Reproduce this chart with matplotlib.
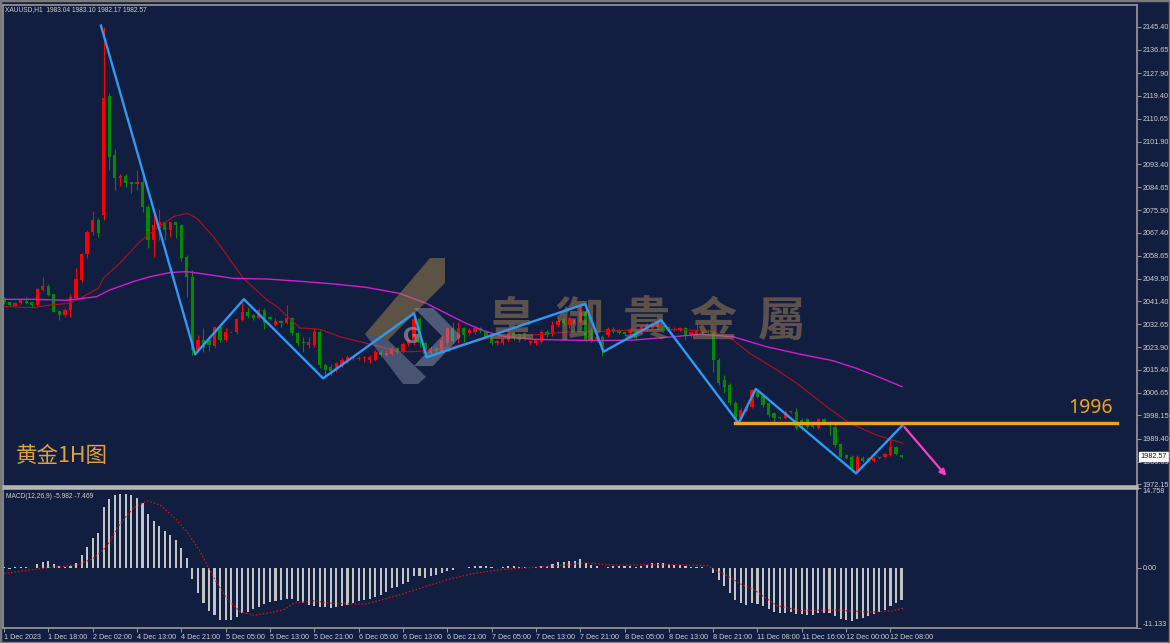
import matplotlib
matplotlib.use('Agg')
import matplotlib.pyplot as plt
from matplotlib.patches import Rectangle, Polygon

plt.rcParams['font.family'] = ['Liberation Sans', 'Noto Sans CJK SC', 'DejaVu Sans']

# ---- XAUUSD H1 bars ----
opens = [2042.5, 2041.0, 2039.75, 2040.75, 2041.65, 2041.0, 2040.0, 2045.7, 2047.2, 2044.05,
         2037.7, 2036.2, 2038.1, 2042.8, 2049.6, 2059.2, 2067.55, 2072.2, 2074.1, 2119.1,
         2096.8, 2088.0, 2088.9, 2086.5, 2085.7, 2086.5, 2077.2, 2064.65, 2069.3, 2071.3,
         2068.6, 2071.3, 2070.5, 2058.3, 2050.75, 2022.95, 2026.7, 2026.7, 2024.6, 2031.55,
         2026.7, 2029.6, 2029.6, 2034.3, 2037.5, 2036.2, 2034.95, 2038.0, 2035.6, 2032.4,
         2034.1, 2033.05, 2034.95, 2029.3, 2026.1, 2024.85, 2024.85, 2029.9, 2017.25, 2016.6,
         2015.4, 2017.25, 2018.5, 2019.8, 2019.7, 2019.9, 2019.15, 2019.15, 2022.3, 2021.05,
         2021.4, 2023.6, 2022.3, 2025.2, 2026.9, 2034.6, 2025.5, 2021.7, 2023.6, 2022.3,
         2025.5, 2031.2, 2027.0, 2031.2, 2029.3, 2029.6, 2031.2, 2030.3, 2028.6, 2025.5,
         2025.5, 2026.7, 2029.3, 2029.0, 2029.3, 2025.5, 2025.5, 2026.1, 2029.6, 2029.0,
         2032.5, 2034.6, 2032.5, 2032.8, 2033.7, 2037.45, 2030.5, 2026.7, 2028.0, 2028.6,
         2030.8, 2030.3, 2029.9, 2029.3, 2029.9, 2029.3, 2030.5, 2031.2, 2031.8, 2032.0,
         2031.8, 2030.5, 2030.5, 2031.2, 2028.6, 2028.9, 2029.9, 2030.3, 2029.3, 2019.15,
         2011.6, 2009.7, 2002.7, 1997.05, 2000.0, 2001.5, 2007.15, 2005.5, 2002.7, 1998.9,
         1997.3, 1997.05, 1999.3, 1999.3, 1996.4, 1996.7, 1994.5, 1993.25, 1996.9, 1995.8,
         1993.9, 1987.3, 1983.15, 1982.5, 1976.8, 1982.1, 1982.1, 1981.0, 1981.9, 1982.5,
         1983.15, 1986.3, 1983.04]
highs = [2043.15, 2041.3, 2041.0, 2042.2, 2043.0, 2041.3, 2046.6, 2050.6, 2048.1, 2044.3,
         2038.0, 2038.75, 2044.05, 2053.9, 2059.8, 2068.4, 2075.8, 2072.9, 2145.5, 2120.5,
         2099.1, 2089.6, 2089.6, 2086.8, 2091.0, 2088.4, 2078.0, 2075.4, 2076.3, 2071.6,
         2071.6, 2071.6, 2070.8, 2058.9, 2053.2, 2028.6, 2031.1, 2027.4, 2032.0, 2031.8,
         2031.2, 2030.3, 2035.0, 2041.3, 2039.4, 2036.6, 2038.75, 2038.75, 2036.0, 2034.95,
         2034.4, 2040.0, 2035.3, 2029.6, 2028.0, 2028.0, 2031.2, 2030.5, 2018.0, 2017.5,
         2018.5, 2019.8, 2021.05, 2021.05, 2020.6, 2020.5, 2021.0, 2022.95, 2022.9, 2022.9,
         2024.0, 2024.2, 2026.1, 2028.0, 2036.85, 2035.6, 2026.1, 2024.5, 2024.2, 2028.6,
         2031.8, 2033.7, 2033.7, 2031.8, 2031.2, 2031.8, 2031.8, 2030.6, 2029.0, 2026.9,
         2027.6, 2030.5, 2029.9, 2029.5, 2029.6, 2026.9, 2027.6, 2030.5, 2030.5, 2034.1,
         2035.1, 2035.1, 2036.0, 2035.0, 2040.4, 2039.9, 2031.2, 2028.6, 2028.6, 2031.5,
         2031.5, 2030.8, 2030.3, 2031.2, 2030.5, 2032.4, 2033.0, 2033.7, 2034.3, 2032.4,
         2032.2, 2031.5, 2031.8, 2031.8, 2030.0, 2032.9, 2030.3, 2030.8, 2029.9, 2020.0,
         2013.5, 2010.3, 2003.5, 2000.8, 2002.1, 2008.2, 2007.8, 2006.0, 2003.0, 1999.3,
         1997.6, 2000.2, 2000.0, 2000.8, 1997.05, 1997.1, 1994.9, 1997.05, 1997.2, 1996.2,
         1994.5, 1987.8, 1983.6, 1983.15, 1983.0, 1982.8, 1982.5, 1982.5, 1982.5, 1984.0,
         1989.5, 1986.6, 1983.10]
lows = [2040.5, 2039.6, 2039.5, 2040.5, 2040.5, 2039.4, 2039.75, 2045.4, 2043.4, 2037.5,
        2034.3, 2035.5, 2035.6, 2042.5, 2048.85, 2057.7, 2066.5, 2065.9, 2072.2, 2091.2,
        2083.6, 2085.0, 2084.9, 2082.3, 2083.6, 2075.4, 2061.5, 2058.3, 2064.5, 2064.6,
        2065.9, 2065.3, 2056.6, 2043.1, 2021.05, 2022.1, 2022.1, 2022.6, 2023.6, 2026.1,
        2026.5, 2029.3, 2028.9, 2034.0, 2034.95, 2034.3, 2034.7, 2030.8, 2034.3, 2032.0,
        2031.8, 2032.8, 2028.6, 2024.6, 2022.3, 2023.6, 2024.2, 2016.0, 2012.2, 2013.5,
        2014.7, 2016.6, 2017.9, 2019.2, 2019.2, 2018.3, 2018.0, 2018.9, 2020.4, 2020.6,
        2021.0, 2021.7, 2021.7, 2024.6, 2024.85, 2024.2, 2020.2, 2021.05, 2021.7, 2021.7,
        2025.0, 2025.5, 2025.5, 2026.1, 2028.6, 2029.0, 2029.3, 2027.4, 2024.85, 2025.0,
        2024.85, 2026.1, 2026.7, 2026.1, 2026.7, 2024.85, 2025.0, 2025.5, 2028.0, 2028.4,
        2031.8, 2032.5, 2031.2, 2032.3, 2033.0, 2026.0, 2026.1, 2026.1, 2020.5, 2028.0,
        2029.3, 2028.9, 2028.4, 2028.9, 2026.9, 2028.9, 2030.0, 2030.8, 2031.2, 2029.9,
        2030.3, 2030.0, 2030.0, 2026.7, 2028.0, 2028.4, 2028.9, 2028.9, 2014.7, 2009.5,
        2006.5, 2002.1, 1995.15, 1996.4, 1999.6, 2001.0, 2004.6, 2001.5, 1997.6, 1995.8,
        1996.7, 1996.7, 1999.0, 1992.6, 1992.6, 1993.3, 1993.25, 1992.9, 1995.2, 1990.7,
        1986.3, 1981.9, 1981.5, 1976.8, 1976.2, 1980.6, 1980.9, 1980.6, 1981.6, 1982.1,
        1982.8, 1983.0, 1982.17]
closes = [2041.0, 2040.0, 2040.75, 2041.8, 2040.9, 2040.0, 2046.05, 2047.2, 2043.8, 2037.5,
          2036.2, 2038.2, 2043.0, 2049.85, 2059.45, 2067.8, 2072.2, 2067.4, 2118.6, 2096.2,
          2088.0, 2088.9, 2086.4, 2085.9, 2086.7, 2077.0, 2064.65, 2070.3, 2071.3, 2068.4,
          2071.3, 2070.3, 2057.95, 2050.75, 2022.95, 2026.7, 2023.6, 2024.85, 2031.55, 2026.7,
          2029.6, 2029.9, 2034.7, 2037.5, 2035.8, 2034.95, 2038.0, 2033.05, 2034.7, 2034.1,
          2033.05, 2034.95, 2029.3, 2025.5, 2025.5, 2026.1, 2029.9, 2017.25, 2015.4, 2015.1,
          2017.9, 2019.15, 2020.4, 2020.3, 2020.1, 2020.0, 2020.4, 2022.3, 2021.05, 2021.9,
          2023.6, 2022.3, 2025.2, 2026.9, 2034.6, 2025.5, 2021.4, 2023.6, 2022.5, 2026.7,
          2031.1, 2026.5, 2031.2, 2028.6, 2030.5, 2031.2, 2030.3, 2028.0, 2025.5, 2026.3,
          2027.2, 2029.3, 2027.4, 2026.7, 2027.2, 2026.4, 2027.2, 2029.6, 2028.8, 2032.5,
          2034.1, 2033.3, 2035.1, 2034.3, 2037.45, 2026.7, 2026.7, 2028.0, 2024.2, 2030.8,
          2029.9, 2029.3, 2029.0, 2030.8, 2027.4, 2031.8, 2032.4, 2033.05, 2033.6, 2030.3,
          2030.8, 2031.0, 2031.2, 2028.6, 2029.6, 2030.3, 2029.3, 2029.3, 2019.15, 2010.3,
          2009.05, 2002.7, 1997.05, 2000.2, 2001.5, 2007.8, 2005.25, 2002.1, 1998.3, 1997.05,
          1997.1, 1999.6, 1999.6, 1993.25, 1994.5, 1993.9, 1993.6, 1996.7, 1995.8, 1994.5,
          1986.9, 1982.5, 1982.1, 1977.45, 1982.5, 1981.0, 1981.25, 1982.1, 1982.2, 1983.6,
          1986.3, 1983.4, 1982.57]

# moving averages, sampled along the drawn lines (bar index, price)
ma_fast_bar = [0, 5.3, 8.3, 11.9, 14.3, 17.0, 17.9, 20.9, 24.5, 27.6, 30.6, 33.0, 34.8, 37.8,
               40.2, 43.2, 47.4, 49.2, 53.4, 57.0, 60.6, 65.4, 69.0, 71.4, 73.8, 77.4, 81.0,
               84.6, 88.2, 91.8, 95.4, 99.1, 102.7, 106.3, 113.6, 119.6, 125.6, 128.0, 131.6,
               134.6, 139.5, 143.1, 148.5, 152.7, 157.5, 162.2]
ma_fast_val = [2039.4, 2039.0, 2040.0, 2040.6, 2043.15, 2046.3, 2050.1, 2055.8, 2064.0, 2069.1,
               2073.5, 2074.75, 2072.9, 2065.9, 2059.0, 2050.1, 2042.0, 2039.5, 2031.3, 2030.8,
               2028.0, 2025.5, 2023.6, 2022.3, 2022.3, 2022.95, 2024.2, 2026.1, 2027.7, 2028.25,
               2028.6, 2029.3, 2029.9, 2029.9, 2030.5, 2030.8, 2030.3, 2029.9, 2026.7, 2021.7,
               2015.4, 2010.3, 2001.5, 1995.15, 1990.7, 1987.6]
ma_slow_bar = [0, 5.3, 11.3, 16.7, 19.1, 23.3, 26.4, 30.0, 33.0, 36.6, 41.4, 47.4, 53.4, 59.4,
               65.4, 71.4, 76.2, 80.4, 83.4, 87.0, 90.6, 95.4, 101.4, 107.4, 113.6, 119.6, 125.6,
               131.6, 137.6, 143.6, 149.6, 154.0, 158.0, 162.1]
ma_slow_val = [2042.15, 2042.15, 2041.8, 2043.15, 2045.7, 2048.85, 2050.75, 2052.3, 2052.65,
               2051.6, 2050.1, 2049.85, 2049.0, 2048.0, 2046.7, 2044.4, 2040.65, 2036.2, 2033.05,
               2029.9, 2028.0, 2027.0, 2026.7, 2026.5, 2026.7, 2027.75, 2028.9, 2028.0, 2024.2,
               2021.4, 2018.9, 2015.9, 2012.6, 2009.05]

# hand-drawn zigzag, support level and projection arrow
zigzag_bar = [17.5, 34.5, 43.3, 57.6, 74.0, 76.3, 104.9, 108.2, 118.6, 132.6, 135.7, 153.8, 162.2]
zigzag_val = [2145.9, 2021.3, 2042.2, 2012.2, 2036.85, 2020.2, 2040.4, 2022.3, 2034.3, 1995.2,
              2008.2, 1976.2, 1994.5]
level_bar = [132.0, 200.9]
level_val = 1995.3
arrow_bar = [162.2, 170.4]
arrow_val = [1994.5, 1974.4]

# MACD(12,26,9) main histogram, one per bar
macd_main = [0.2, -0.2, 0.1, 0.1, 0.1, 0.0, 0.7, 1.0, 1.2, 0.7,
             0.4, 0.2, 0.4, 0.9, 2.3, 3.9, 5.5, 6.5, 11.2, 12.8,
             13.4, 13.6, 13.6, 13.4, 13.0, 12.0, 10.0, 8.6, 7.8, 6.8,
             6.0, 5.2, 3.7, 1.8, -2.0, -4.7, -6.5, -8.0, -8.8, -9.6,
             -9.7, -9.6, -9.1, -8.3, -8.1, -7.7, -7.2, -6.7, -6.4, -6.1,
             -5.9, -5.7, -5.7, -6.1, -6.5, -6.9, -7.1, -7.2, -7.3, -7.4,
             -7.2, -7.1, -6.8, -6.6, -6.2, -5.9, -5.7, -5.4, -5.1, -4.4,
             -3.8, -3.5, -3.0, -2.6, -1.6, -1.6, -1.8, -1.6, -1.4, -1.0,
             -0.5, -0.4, -0.1, 0.0, 0.2, 0.3, 0.4, 0.3, 0.1, 0.0,
             0.1, 0.3, 0.3, 0.2, 0.2, 0.0, 0.1, 0.3, 0.4, 0.7,
             1.0, 1.1, 1.3, 1.3, 1.6, 0.9, 0.5, 0.4, -0.1, 0.2,
             0.3, 0.3, 0.3, 0.4, 0.2, 0.4, 0.6, 0.8, 0.9, 0.8,
             0.7, 0.6, 0.6, 0.3, 0.2, 0.2, 0.1, 0.0, -0.9, -2.3,
             -3.4, -4.7, -6.0, -6.6, -6.9, -6.6, -6.7, -7.0, -7.6, -8.1,
             -8.4, -8.3, -8.1, -8.5, -8.6, -8.7, -8.7, -8.4, -8.3, -8.3,
             -8.9, -9.5, -9.6, -9.9, -9.5, -9.2, -8.9, -8.6, -8.2, -7.8,
             -7.1, -6.6, -5.98]
signal_bar = [0, 5.3, 8.3, 13.1, 16.1, 18.5, 21.0, 23.3, 25.8, 28.2, 30.6, 33.0, 35.4, 37.8,
              40.2, 42.6, 45.0, 47.4, 50.4, 52.2, 55.8, 59.4, 65.5, 71.2, 76, 80, 85, 90, 100,
              105, 110, 120, 127, 130, 133, 135.4, 139.5, 143.7, 150.5, 156.1, 160.3, 162.3]
signal_val = [-1.05, -0.3, 0.05, 0.5, 1.7, 3.9, 8.2, 11.0, 12.4, 11.6, 9.4, 6.7, 3.0, -1.7,
              -5.7, -8.1, -8.75, -8.45, -7.8, -6.6, -6.1, -6.6, -6.7, -5.05, -3.5, -2.2, -1.0,
              -0.3, 0.4, 0.9, 0.5, 0.6, 0.4, -1.2, -3.0, -4.1, -7.0, -7.9, -7.8, -8.2, -8.0,
              -7.47]

price_ticks = [2145.40, 2136.65, 2127.90, 2119.40, 2110.65, 2101.90, 2093.40, 2084.65, 2075.90,
               2067.40, 2058.65, 2049.90, 2041.40, 2032.65, 2023.90, 2015.40, 2006.65, 1998.15,
               1989.40, 1980.65, 1972.15]
time_labels = ['1 Dec 2023', '1 Dec 18:00', '2 Dec 02:00', '4 Dec 13:00', '4 Dec 21:00',
               '5 Dec 05:00', '5 Dec 13:00', '5 Dec 21:00', '6 Dec 05:00', '6 Dec 13:00',
               '6 Dec 21:00', '7 Dec 05:00', '7 Dec 13:00', '7 Dec 21:00', '8 Dec 05:00',
               '8 Dec 13:00', '8 Dec 21:00', '11 Dec 08:00', '11 Dec 16:00', '12 Dec 00:00',
               '12 Dec 08:00']

BG = '#111e3f'
FG = '#d0d0d0'
AXC = '#9a9a9a'
UP = '#ff0000'
DOWN = '#008a00'
W, H = 1170, 643


def fx(px):
    return (px - 3) / 1134.0


def fy(py):
    return (486 - py) / 481.0


def main():
    fig = plt.figure(figsize=(W / 100, H / 100), dpi=100, facecolor=BG)
    ax = fig.add_axes([3 / W, (H - 486) / H, 1134 / W, 481 / H], facecolor=BG)
    axm = fig.add_axes([3 / W, (H - 628) / H, 1134 / W, 140 / H], facecolor=BG, sharex=ax)

    n = len(closes)
    xs = list(range(n))

    # candles
    for i in xs:
        o, h, l, c = opens[i], highs[i], lows[i], closes[i]
        col = UP if c >= o else DOWN
        ax.vlines(i, l, h, color=col, lw=0.8, zorder=2)
        bot = min(o, c)
        ht = max(abs(c - o), 0.35)
        ax.bar(i, ht, bottom=bot, width=0.58, color=col, edgecolor=col, lw=0, zorder=2)

    ax.plot(ma_fast_bar, ma_fast_val, color='#b3101c', lw=0.8, zorder=3)
    ax.plot(ma_slow_bar, ma_slow_val, color='#cf1fd0', lw=1.0, zorder=3)

    # watermark logo + text
    gold = [(430, 258), (445, 258), (445, 283), (388, 340), (365, 334)]
    light = [(365, 334), (388, 340), (426, 377), (418, 384), (403, 384)]
    chev = [(414, 308), (433, 308), (461, 336), (433, 366), (414, 366), (442, 336)]
    for pts, col, al in [(gold, '#a8884a', 0.5), (light, '#8f98ae', 0.45), (chev, '#8e97ad', 0.5)]:
        ax.add_patch(Polygon([(fx(a), fy(b)) for a, b in pts], closed=True,
                             transform=ax.transAxes, facecolor=col, edgecolor='none',
                             alpha=al, zorder=4))
    ax.text(fx(412), fy(337), 'G', transform=ax.transAxes, ha='center', va='center',
            fontsize=15, fontweight='bold', color='#8e97ad', alpha=0.7, zorder=4,
            family=['DejaVu Sans'])
    for ch, cx in zip('皇御貴金屬', [511, 579, 646, 713, 781]):
        ax.text(fx(cx), fy(322), ch, transform=ax.transAxes, ha='center', va='center',
                fontsize=34, fontweight='bold', color='#a88458', alpha=0.5, zorder=4,
                family=['Noto Sans CJK TC', 'DejaVu Sans'])

    # drawings
    ax.plot(zigzag_bar, zigzag_val, color='#2e9af5', lw=1.7, zorder=5)
    ax.plot(level_bar, [level_val, level_val], color='#f0a21e', lw=2.4, zorder=5)
    ax.annotate('', xy=(arrow_bar[1], arrow_val[1]), xytext=(arrow_bar[0], arrow_val[0]),
                arrowprops=dict(arrowstyle='-|>', color='#ff3fc0', lw=1.6, mutation_scale=9),
                zorder=6)
    ax.text(fx(1068), fy(408), '1996', transform=ax.transAxes, ha='left', va='center',
            fontsize=14, color='#f0a21e', zorder=7, family=['Noto Sans', 'DejaVu Sans'])
    ax.text(fx(16), fy(456), '黄金1H图', transform=ax.transAxes, ha='left', va='center',
            fontsize=15.5, color='#e0a23c', zorder=7,
            family=['Noto Sans CJK SC', 'DejaVu Sans'])
    ax.text(fx(5), fy(10), 'XAUUSD,H1  1983.04 1983.10 1982.17 1982.57', transform=ax.transAxes,
            ha='left', va='center', fontsize=4.8, color=FG, zorder=7)

    ax.set_xlim(-0.18, 204.5)
    ax.set_ylim(1971.4, 2153.7)
    ax.yaxis.tick_right()
    ax.set_yticks(price_ticks)
    ax.set_yticklabels(['%.2f' % v for v in price_ticks])
    ax.tick_params(axis='y', colors=AXC, labelcolor=FG, labelsize=5.2, length=3, pad=1, width=0.7)
    ax.tick_params(axis='x', bottom=False, labelbottom=False)

    # current price box
    ax.text(1.003, (closes[-1] - 1971.4) / (2153.7 - 1971.4), '%.2f' % closes[-1],
            transform=ax.transAxes, ha='left', va='center', fontsize=5.2, color='#111111',
            bbox=dict(boxstyle='square,pad=0.15', facecolor='white', edgecolor='white'),
            clip_on=False, zorder=8)

    # MACD panel
    axm.bar(xs, macd_main, width=0.38, color='#c4c4c4', lw=0, zorder=2)
    axm.plot(signal_bar, signal_val, color='#e01010', lw=0.9, ls=(0, (1.2, 1.6)), zorder=3)
    axm.set_ylim(-11.133, 14.758)
    axm.yaxis.tick_right()
    axm.set_yticks([14.758, 0.0, -11.133])
    axm.set_yticklabels(['14.758', '0.00', '-11.133'])
    yl = axm.get_yticklabels()
    yl[0].set_va('top')
    yl[2].set_va('bottom')
    axm.tick_params(axis='y', colors=AXC, labelcolor=FG, labelsize=5.2, length=3, pad=1, width=0.7)
    axm.text(fx(5) + 0.0005, 0.965, 'MACD(12,26,9) -5.982 -7.469', transform=axm.transAxes,
             ha='left', va='top', fontsize=4.8, color=FG)

    axm.set_xticks(list(range(0, 161, 8)))
    axm.set_xticklabels(time_labels)
    for lbl in axm.get_xticklabels():
        lbl.set_ha('left')
    axm.tick_params(axis='x', colors=AXC, labelcolor=FG, labelsize=5.2, length=3, pad=1, width=0.7)

    for a in (ax, axm):
        for s in a.spines.values():
            s.set_color(AXC)
            s.set_linewidth(1.2)
    ax.spines['bottom'].set_linewidth(1.8)
    axm.spines['top'].set_linewidth(1.8)
    ax.spines['bottom'].set_color('#b8b8b8')
    axm.spines['top'].set_color('#b8b8b8')

    fig.patches.append(Rectangle((0, 0), 1, 1, transform=fig.transFigure, fill=False,
                                 edgecolor='#7a7a7a', lw=2.5))

    plt.savefig('out.png', dpi=100, facecolor=BG)


if __name__ == '__main__':
    main()
